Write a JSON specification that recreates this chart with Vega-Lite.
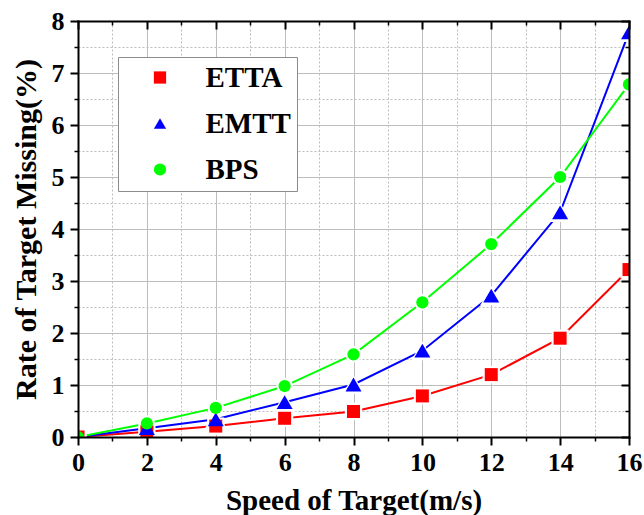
{
  "$schema": "https://vega.github.io/schema/vega-lite/v6.json",
  "width": 551,
  "height": 416,
  "autosize": "none",
  "padding": {"left": 78, "top": 21, "right": 15, "bottom": 78},
  "background": "white",
  "config": {"view": {"stroke": null}, "font": "Liberation Serif"},
  "data": {
    "values": [
      {"speed": 0, "rate": 0, "method": "ETTA"},
      {"speed": 2, "rate": 0.1, "method": "ETTA"},
      {"speed": 4, "rate": 0.21, "method": "ETTA"},
      {"speed": 6, "rate": 0.36, "method": "ETTA"},
      {"speed": 8, "rate": 0.49, "method": "ETTA"},
      {"speed": 10, "rate": 0.79, "method": "ETTA"},
      {"speed": 12, "rate": 1.2, "method": "ETTA"},
      {"speed": 14, "rate": 1.9, "method": "ETTA"},
      {"speed": 16, "rate": 3.22, "method": "ETTA"},
      {"speed": 0, "rate": 0, "method": "EMTT"},
      {"speed": 2, "rate": 0.17, "method": "EMTT"},
      {"speed": 4, "rate": 0.34, "method": "EMTT"},
      {"speed": 6, "rate": 0.67, "method": "EMTT"},
      {"speed": 8, "rate": 1.01, "method": "EMTT"},
      {"speed": 10, "rate": 1.66, "method": "EMTT"},
      {"speed": 12, "rate": 2.72, "method": "EMTT"},
      {"speed": 14, "rate": 4.32, "method": "EMTT"},
      {"speed": 16, "rate": 7.78, "method": "EMTT"},
      {"speed": 0, "rate": 0, "method": "BPS"},
      {"speed": 2, "rate": 0.26, "method": "BPS"},
      {"speed": 4, "rate": 0.56, "method": "BPS"},
      {"speed": 6, "rate": 0.98, "method": "BPS"},
      {"speed": 8, "rate": 1.59, "method": "BPS"},
      {"speed": 10, "rate": 2.59, "method": "BPS"},
      {"speed": 12, "rate": 3.71, "method": "BPS"},
      {"speed": 14, "rate": 5.0, "method": "BPS"},
      {"speed": 16, "rate": 6.78, "method": "BPS"}
    ]
  },
  "layer": [
    {
      "description": "minor grid and short outward minor ticks (bottom, left)",
      "mark": {"type": "point", "opacity": 0},
      "encoding": {
        "x": {"field": "speed", "type": "quantitative", "scale": {"domain": [0, 16], "nice": false},
          "axis": {"orient": "bottom", "values": [1, 3, 5, 7, 9, 11, 13, 15], "grid": true, "gridDash": [2, 2], "gridColor": "#bdbdbd", "gridWidth": 1,
            "domain": false, "labels": false, "ticks": true, "tickSize": 4, "tickWidth": 1.5, "tickColor": "black", "title": null, "zindex": 0}},
        "y": {"field": "rate", "type": "quantitative", "scale": {"domain": [0, 8], "nice": false},
          "axis": {"orient": "left", "values": [0.5, 1.5, 2.5, 3.5, 4.5, 5.5, 6.5, 7.5], "grid": true, "gridDash": [2, 2], "gridColor": "#bdbdbd", "gridWidth": 1,
            "domain": false, "labels": false, "ticks": true, "tickSize": 4, "tickWidth": 1.5, "tickColor": "black", "title": null, "zindex": 0}}
      }
    },
    {
      "description": "major grid",
      "mark": {"type": "point", "opacity": 0},
      "encoding": {
        "x": {"field": "speed", "type": "quantitative",
          "axis": {"orient": "bottom", "values": [0, 2, 4, 6, 8, 10, 12, 14, 16], "grid": true, "gridColor": "#bdbdbd", "gridWidth": 1,
            "domain": false, "labels": false, "ticks": false, "title": null, "zindex": 0}},
        "y": {"field": "rate", "type": "quantitative",
          "axis": {"orient": "left", "values": [0, 1, 2, 3, 4, 5, 6, 7, 8], "grid": true, "gridColor": "#bdbdbd", "gridWidth": 1,
            "domain": false, "labels": false, "ticks": false, "title": null, "zindex": 0}}
      }
    },
    {
      "description": "mirrored frame with inward major ticks (top, right)",
      "mark": {"type": "point", "opacity": 0},
      "encoding": {
        "x": {"field": "speed", "type": "quantitative",
          "axis": {"orient": "top", "values": [0, 2, 4, 6, 8, 10, 12, 14, 16], "grid": false,
            "domain": true, "domainWidth": 2, "domainColor": "black", "domainCap": "square",
            "labels": false, "ticks": true, "tickSize": -8, "tickWidth": 2, "tickColor": "black", "title": null, "zindex": 1}},
        "y": {"field": "rate", "type": "quantitative",
          "axis": {"orient": "right", "values": [0, 1, 2, 3, 4, 5, 6, 7, 8], "grid": false,
            "domain": true, "domainWidth": 2, "domainColor": "black", "domainCap": "square",
            "labels": false, "ticks": true, "tickSize": -8, "tickWidth": 2, "tickColor": "black", "title": null, "zindex": 1}}
      }
    },
    {
      "description": "inward minor ticks (top, right)",
      "mark": {"type": "point", "opacity": 0},
      "encoding": {
        "x": {"field": "speed", "type": "quantitative",
          "axis": {"orient": "top", "values": [1, 3, 5, 7, 9, 11, 13, 15], "grid": false, "domain": false,
            "labels": false, "ticks": true, "tickSize": -4, "tickWidth": 1.5, "tickColor": "black", "title": null, "zindex": 1}},
        "y": {"field": "rate", "type": "quantitative",
          "axis": {"orient": "right", "values": [0.5, 1.5, 2.5, 3.5, 4.5, 5.5, 6.5, 7.5], "grid": false, "domain": false,
            "labels": false, "ticks": true, "tickSize": -4, "tickWidth": 1.5, "tickColor": "black", "title": null, "zindex": 1}}
      }
    },
    {
      "description": "series lines with the labelled bottom and left axes",
      "mark": {"type": "line", "strokeWidth": 2, "clip": true},
      "encoding": {
        "x": {"field": "speed", "type": "quantitative",
          "axis": {"orient": "bottom", "values": [0, 2, 4, 6, 8, 10, 12, 14, 16], "grid": false,
            "domain": true, "domainWidth": 2, "domainColor": "black", "domainCap": "square",
            "ticks": true, "tickSize": 8, "tickWidth": 2, "tickColor": "black",
            "labelFont": "Liberation Serif", "labelFontSize": 26, "labelFontWeight": "bold", "labelColor": "black", "labelPadding": 4, "labelFlush": false,
            "title": "Speed of Target(m/s)", "titleFont": "Liberation Serif", "titleFontSize": 29, "titleFontWeight": "bold", "titleColor": "black", "titlePadding": 11,
            "zindex": 1}},
        "y": {"field": "rate", "type": "quantitative",
          "axis": {"orient": "left", "values": [0, 1, 2, 3, 4, 5, 6, 7, 8], "grid": false,
            "domain": true, "domainWidth": 2, "domainColor": "black", "domainCap": "square",
            "ticks": true, "tickSize": 8, "tickWidth": 2, "tickColor": "black",
            "labelFont": "Liberation Serif", "labelFontSize": 26, "labelFontWeight": "bold", "labelColor": "black", "labelPadding": 6, "labelFlush": false,
            "title": "Rate of Target Missing(%)", "titleFont": "Liberation Serif", "titleFontSize": 30, "titleFontWeight": "bold", "titleColor": "black", "titlePadding": 10,
            "zindex": 1}},
        "color": {"field": "method", "type": "nominal", "sort": ["ETTA", "EMTT", "BPS"],
          "scale": {"domain": ["ETTA", "EMTT", "BPS"], "range": ["#ff0000", "#0000ff", "#00ff00"]}},
        "order": {"field": "speed", "type": "quantitative"}
      }
    },
    {
      "description": "white halo that opens a gap in the line around each marker",
      "mark": {"type": "point", "filled": true, "color": "white", "opacity": 1, "strokeWidth": 0, "clip": true},
      "encoding": {
        "x": {"field": "speed", "type": "quantitative", "axis": null},
        "y": {"field": "rate", "type": "quantitative", "axis": null},
        "shape": {"field": "method", "type": "nominal",
          "scale": {"domain": ["ETTA", "EMTT", "BPS"], "range": ["square", "triangle-up", "circle"]}, "legend": null},
        "size": {"condition": [{"test": "datum.method === 'EMTT'", "value": 484}, {"test": "datum.method === 'ETTA'", "value": 300}], "value": 270}
      }
    },
    {
      "description": "coloured markers and the legend",
      "mark": {"type": "point", "filled": true, "opacity": 1, "strokeWidth": 0, "clip": true},
      "encoding": {
        "x": {"field": "speed", "type": "quantitative", "axis": null},
        "y": {"field": "rate", "type": "quantitative", "axis": null},
        "shape": {"field": "method", "type": "nominal", "legend": null},
        "size": {"condition": [{"test": "datum.method === 'EMTT'", "value": 256}, {"test": "datum.method === 'ETTA'", "value": 169}], "value": 150},
        "color": {"field": "method", "type": "nominal", "sort": ["ETTA", "EMTT", "BPS"],
          "legend": {
            "orient": "none", "legendX": 40, "legendY": 36, "title": null,
            "symbolSize": 150, "symbolStrokeWidth": 0, "symbolOffset": 21.5, "labelOffset": 31,
            "labelFont": "Liberation Serif", "labelFontSize": 29, "labelFontWeight": "bold", "labelColor": "black",
            "padding": 6, "rowPadding": 16, "fillColor": "white", "strokeColor": "#8c8c8c",
            "encode": {
              "legend": {"strokeWidth": {"value": 1.5}},
              "symbols": {
                "shape": {"value": {"expr": "datum.value === 'ETTA' ? 'square' : datum.value === 'EMTT' ? 'triangle-up' : 'circle'"}},
                "fill": {"value": {"expr": "scale('color', datum.value)"}},
                "stroke": {"value": "transparent"},
                "strokeWidth": {"value": 0},
                "opacity": {"value": 1}
              }
            }
          }}
      }
    }
  ],
  "resolve": {"axis": {"x": "independent", "y": "independent"}}
}
